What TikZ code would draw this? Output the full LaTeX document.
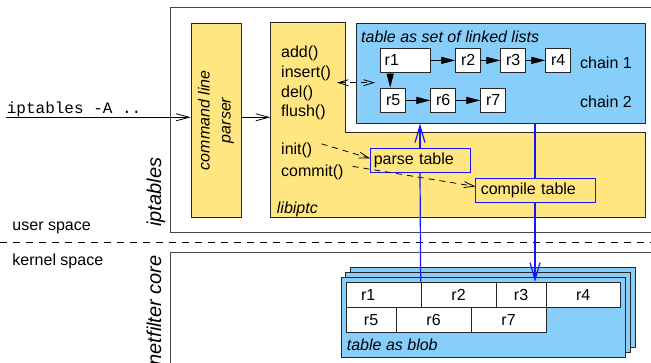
\documentclass[tikz,border=0pt]{standalone}
\usepackage{fontspec}
\setmainfont{Liberation Sans}
\setmonofont{Liberation Mono}
\usetikzlibrary{arrows.meta}
\definecolor{ylw}{RGB}{255,230,128}
\definecolor{lblue}{RGB}{135,206,250}
\definecolor{edge}{RGB}{70,70,70}
\definecolor{lnblue}{RGB}{20,20,255}
\begin{document}
\begin{tikzpicture}[x=1pt,y=-1pt,
  font=\fontsize{16}{19}\selectfont,
  outerbox/.style={draw=edge, line width=0.9pt},
  panel/.style={draw=black!85, line width=0.8pt, inner sep=0pt, anchor=north west},
  rbox/.style={draw=black!85, fill=white, line width=0.8pt, inner sep=0pt, minimum height=24.6pt, minimum width=25pt, anchor=north west},
  cell/.style={draw=black!85, fill=white, line width=0.8pt, inner sep=0pt, minimum height=25pt, anchor=north west},
  stepbox/.style={draw=lnblue, fill=ylw, line width=0.9pt, inner ysep=0pt, minimum height=24.6pt, anchor=north west, align=left},
  txt/.style={inner sep=0pt, anchor=base west},
  openhead/.style={-{Straight Barb[length=13pt,width=7pt]}, line width=0.8pt},
  fillhead/.style={-{Triangle[length=14pt,width=7pt]}, line width=0.8pt},
  dashhead/.style={dash pattern=on 6pt off 5pt, line width=0.8pt},
  bluearrow/.style={draw=lnblue, line width=1.2pt},
]
\useasboundingbox (0,0) rectangle (651,363);
\clip (0,0) rectangle (651,363);

% outer boxes
\draw[outerbox] (170.7,7.3) rectangle (670,232);
\draw[outerbox] (170.7,252.7) rectangle (670,380);
\draw[dash pattern=on 7pt off 6pt, line width=0.8pt] (0,242.7) -- (651,242.7);

% side labels
\node[txt] (user) at (12.3,231) {user space};
\node[txt] (kernel) at (12.3,266) {kernel space};
\node[inner sep=0pt, anchor=base west, rotate=90, font=\fontsize{20}{24}\selectfont\itshape] (iptlabel) at (161,227) {iptables};
\node[inner sep=0pt, anchor=base east, rotate=90, font=\fontsize{20}{24}\selectfont\itshape] (nflabel) at (161,255) {netfilter core};

% command line parser
\node[panel, fill=ylw, minimum width=50pt, minimum height=194.6pt] (parser) at (190.7,22.7) {};
\node[rotate=90, align=center, font=\fontsize{16}{21}\selectfont\itshape] (parsertext) at (parser.center) {command line\\parser};

% libiptc region
\node[inner sep=0pt, minimum width=374.7pt, minimum height=194.6pt, anchor=north west] (lib) at (270.3,22.7) {};
\draw[fill=ylw, draw=black!85, line width=0.8pt] (270.3,22.7) -- (345.7,22.7) -- (345.7,132.7) -- (645,132.7) -- (645,217.3) -- (270.3,217.3) -- cycle;

\node[txt] (add) at (281,58) {add()};
\node[txt] (insert) at (281,77.5) {insert()};
\node[txt] (del) at (281,97.3) {del()};
\node[txt] (flush) at (281,117) {flush()};
\node[txt] (init) at (281,155) {init()};
\node[txt] (commit) at (281,176.5) {commit()};
\node[txt, font=\fontsize{16}{19}\selectfont\itshape] (libname) at (276.7,213.3) {libiptc};

% input
\coordinate (cmdstart) at (6,117.3);
\node[txt, font=\fontsize{16}{19}\selectfont\ttfamily] (cmd) at (6.7,114) {iptables -A ..};
\draw[openhead] (cmdstart) -- (parser.west |- cmdstart);
\draw[openhead] (parser.east |- cmdstart) -- (lib.west |- cmdstart);

% linked-list table
\node[panel, fill=lblue, minimum width=289.3pt, minimum height=100pt] (tbl) at (355.7,22.7) {};
\node[txt, font=\fontsize{16}{19}\selectfont\itshape] (tbltitle) at (361,42.5) {table as set of linked lists};

\node[rbox, minimum width=50pt, text width=42pt, inner xsep=4pt, align=left] (r1) at (380.3,47.7) {r1};
\node[rbox] (r2) at (455.3,47.7) {r2};
\node[rbox] (r3) at (500.3,47.7) {r3};
\node[rbox] (r4) at (545.3,47.7) {r4};
\node[rbox] (r5) at (380.3,87.7) {r5};
\node[rbox] (r6) at (430.3,87.7) {r6};
\node[rbox] (r7) at (480.3,87.7) {r7};
\draw[fillhead] (r1) -- (r2);
\draw[fillhead] (r2) -- (r3);
\draw[fillhead] (r3) -- (r4);
\draw[fillhead] (r5) -- (r6);
\draw[fillhead] (r6) -- (r7);
\draw[fillhead] ([xshift=-3pt]r5.north |- r1.south) -- ([xshift=-3pt]r5.north);
\node[txt] (chain1) at (580,68.3) {chain 1};
\node[txt] (chain2) at (580,108) {chain 2};

% dashed double arrow between ops and table
\coordinate (opsend) at (337,82.7);
\draw[dashhead, {Straight Barb[length=10pt,width=6pt]}-{Straight Barb[length=10pt,width=6pt]}] (opsend) -- ([xshift=19.3pt]tbl.west |- opsend);

% parse / compile
\node[stepbox, inner xsep=3pt, text width=94pt] (parse) at (370.3,147.7) {parse table};
\node[stepbox, inner xsep=5pt, text width=110pt] (compile) at (475.3,177.7) {compile table};
\draw[dashhead, -{Straight Barb[length=10pt,width=6pt]}] ([xshift=9pt,yshift=7pt]init.east) -- ([yshift=2pt]parse.west);
\draw[dashhead, -{Straight Barb[length=10pt,width=6pt]}] ([xshift=9pt,yshift=6pt]commit.east) -- ([yshift=4pt]compile.west);

% blob
\draw[draw=black!85, fill=lblue, line width=0.8pt] (350.7,267.3) rectangle (635,347.3);
\draw[draw=black!85, fill=lblue, line width=0.8pt] (345.7,272.3) rectangle (630,352.3);
\node[panel, fill=lblue, minimum width=284.3pt, minimum height=80pt] (blob) at (340.7,277.3) {};
\node[cell, minimum width=75pt, text width=61pt, inner xsep=7pt, align=left] (b1) at (345.7,281.7) {\hspace{8pt}r1};
\node[cell, minimum width=75pt] (b2) at (420.7,281.7) {r2};
\node[cell, minimum width=50pt] (b3) at (495.7,281.7) {r3};
\node[cell, minimum width=74.3pt] (b4) at (545.7,281.7) {r4};
\node[cell, minimum width=50pt] (b5) at (345.7,306.7) {r5};
\node[cell, minimum width=75pt] (b6) at (395.7,306.7) {r6};
\node[cell, minimum width=75pt] (b7) at (470.7,306.7) {r7};
\node[txt, font=\fontsize{16}{19}\selectfont\itshape] (blobname) at (346.7,350.5) {table as blob};

% blue flows
\coordinate (upx) at (420,0);
\coordinate (downx) at (535,0);
\draw[bluearrow] (b2.north west) -- (upx |- parse.south);
\draw[bluearrow, -{Straight Barb[length=17pt,width=10pt]}] (upx |- parse.north) -- (upx |- tbl.south);
\draw[bluearrow] (downx |- tbl.south) -- (downx |- compile.north);
\draw[bluearrow, -{Straight Barb[length=17pt,width=10pt]}] (downx |- compile.south) -- (downx |- b3.north);
\end{tikzpicture}
\end{document}
